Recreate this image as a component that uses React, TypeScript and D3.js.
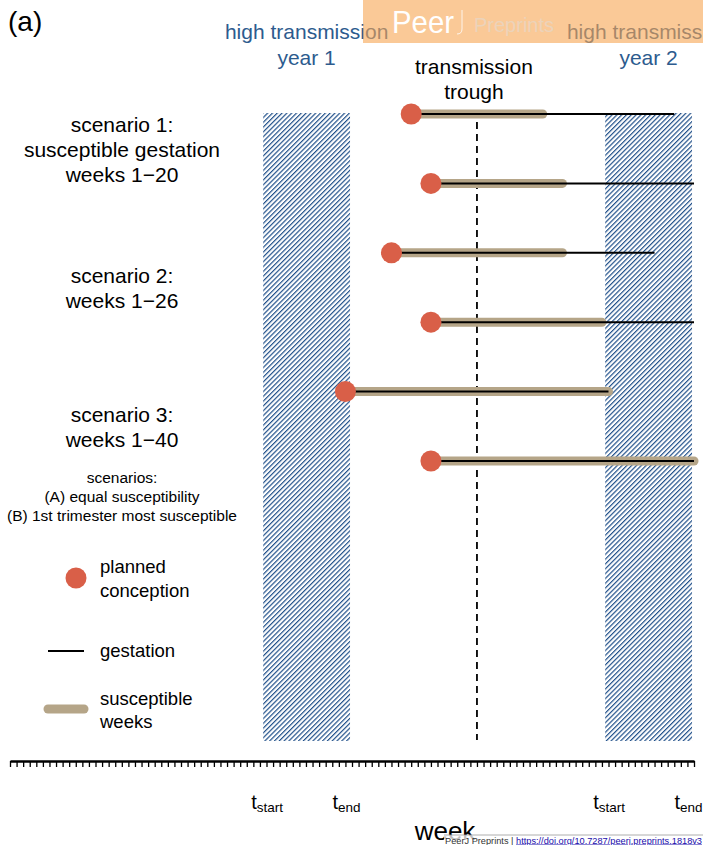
import React, { useEffect, useRef } from 'react';
import * as d3 from 'd3';

// weeks on the x axis, one tick per week
const weekTicks = d3.range(0, 105);
// high transmission seasons [start, end] in weeks
const seasonStart = [38.5, 90.5];
const seasonEnd = [51.7, 103.7];
const seasonLabels = ['year 1', 'year 2'];
const troughWeek = 71;

// one row per scenario variant (A, B)
const conceptionWeek = [61, 64, 58, 64, 51, 64];
const susceptibleLength = [20, 20, 26, 26, 40, 40];
const gestationLength = [40, 40, 40, 40, 40, 40];

const scenarioTitles = [
  ['scenario 1:', 'susceptible gestation', 'weeks 1\u221220'],
  ['scenario 2:', 'weeks 1\u221226'],
  ['scenario 3:', 'weeks 1\u221240'],
];
const scenarioBaselines = [132, 283, 422];
const noteLines = ['scenarios:', '(A) equal susceptibility', '(B) 1st trimester most susceptible'];

const W = 703;
const H = 845;
const FONT = "'Liberation Sans', Arial, Helvetica, sans-serif";
const BLUE = '#2d5b8e';
const HATCH = '#20508a';
const RED = '#d95f48';
const TAN = '#b5a588';

const App = () => {
  const axisRef = useRef<SVGGElement>(null);

  const x = d3.scaleLinear().domain([0, 104]).range([10, 694]);
  const y = d3.scalePoint<number>().domain(d3.range(conceptionWeek.length)).range([114, 461]);

  useEffect(() => {
    const g = d3.select(axisRef.current);
    g.selectAll('*').remove();
    g.call(
      d3.axisBottom(x).tickValues(weekTicks).tickSize(6).tickSizeOuter(0).tickFormat(() => '')
    );
    g.select('.domain').attr('stroke-width', 2.4).attr('stroke', '#000');
    g.selectAll('.tick line').attr('stroke-width', 1.3).attr('stroke', '#000');
  }, []);

  return (
    <svg
      width={W}
      height={H}
      style={{ position: 'absolute', left: 0, top: 0, background: '#fff' }}
      fontFamily={FONT}
    >
      <defs>
        <pattern id="hatch" width={3.4} height={3.4} patternUnits="userSpaceOnUse" patternTransform="rotate(45)">
          <line x1={0} y1={0} x2={0} y2={3.4} stroke={HATCH} strokeWidth={2.4} />
        </pattern>
      </defs>

      <text x={8} y={31} fontSize={28} fill="#000">(a)</text>

      {/* high transmission seasons */}
      {seasonStart.map((s, i) => (
        <g key={'season' + i}>
          <rect x={x(s)} y={113} width={x(seasonEnd[i]) - x(s)} height={628} fill="url(#hatch)" />
          <text x={(x(s) + x(seasonEnd[i])) / 2} y={39} fontSize={21} fill={BLUE} textAnchor="middle">
            high transmission
          </text>
          <text x={(x(s) + x(seasonEnd[i])) / 2} y={65} fontSize={21} fill={BLUE} textAnchor="middle">
            {seasonLabels[i]}
          </text>
        </g>
      ))}

      {/* transmission trough */}
      <line x1={x(troughWeek)} x2={x(troughWeek)} y1={122} y2={740} stroke="#000" strokeWidth={1.8} strokeDasharray="7,5" />
      <text x={x(troughWeek) - 3} y={74} fontSize={21} textAnchor="middle">transmission</text>
      <text x={x(troughWeek) - 3} y={99} fontSize={21} textAnchor="middle">trough</text>

      {/* pregnancies */}
      {conceptionWeek.map((c, i) => (
        <g key={'row' + i}>
          <line x1={x(c)} x2={x(c + susceptibleLength[i])} y1={y(i)} y2={y(i)} stroke={TAN} strokeWidth={9} strokeLinecap="round" />
          <line x1={x(c)} x2={x(c + gestationLength[i])} y1={y(i)} y2={y(i)} stroke="#000" strokeWidth={2} />
          <circle cx={x(c)} cy={y(i)} r={10.5} fill={RED} />
        </g>
      ))}

      {/* scenario titles */}
      {scenarioTitles.map((lines, i) =>
        lines.map((t, j) => (
          <text key={'st' + i + j} x={122} y={scenarioBaselines[i] + j * 25} fontSize={21} textAnchor="middle">
            {t}
          </text>
        ))
      )}
      {noteLines.map((t, j) => (
        <text key={'note' + j} x={122} y={483 + j * 19} fontSize={15.5} textAnchor="middle">
          {t}
        </text>
      ))}

      {/* legend */}
      <circle cx={76} cy={578} r={10.5} fill={RED} />
      <text x={100} y={573} fontSize={18.5}>planned</text>
      <text x={100} y={597} fontSize={18.5}>conception</text>
      <line x1={48} x2={84} y1={651} y2={651} stroke="#000" strokeWidth={2} />
      <text x={100} y={657} fontSize={18.5}>gestation</text>
      <line x1={48} x2={84} y1={709} y2={709} stroke={TAN} strokeWidth={9} strokeLinecap="round" />
      <text x={100} y={705} fontSize={18.5}>susceptible</text>
      <text x={100} y={728} fontSize={18.5}>weeks</text>

      {/* axis */}
      <g ref={axisRef} transform="translate(0,761)" />
      {seasonStart.map((s, i) => (
        <g key={'tl' + i}>
          <text x={x(s) + 4} y={809} fontSize={20} textAnchor="middle">
            t<tspan fontSize={13.5} dy={3}>start</tspan>
          </text>
          <text x={x(seasonEnd[i]) - 3.5} y={809} fontSize={20} textAnchor="middle">
            t<tspan fontSize={13.5} dy={3}>end</tspan>
          </text>
        </g>
      ))}
      <text x={445} y={840} fontSize={26} textAnchor="middle">week</text>

      {/* PeerJ watermark */}
      <rect x={363} y={0} width={W - 363} height={43} fill="#f6a552" opacity={0.6} />
      <text x={392} y={33} fontSize={32} fill="#fff" textLength={62} lengthAdjust="spacingAndGlyphs">Peer</text>
      <line x1={462} x2={462} y1={10} y2={29} stroke="#fff" strokeWidth={1} opacity={0.8} />
      <path d="M462,29 Q462,34 457,34" fill="none" stroke="#fff" strokeWidth={1} opacity={0.8} />
      <text x={474} y={32} fontSize={20} fill="#ecd3ba">Preprints</text>

      <rect x={444} y={835} width={W - 444} height={10} fill="#fff" opacity={0.75} />
      <line x1={444} x2={W} y1={835} y2={835} stroke="#999" strokeWidth={0.8} />
      <text x={445} y={843.5} fontSize={9.5} fill="#333" textLength={257} lengthAdjust="spacingAndGlyphs">
        PeerJ Preprints |{' '}
        <tspan fill="#1a0dab" textDecoration="underline">https://doi.org/10.7287/peerj.preprints.1818v3</tspan>
      </text>
    </svg>
  );
};

export default App;
